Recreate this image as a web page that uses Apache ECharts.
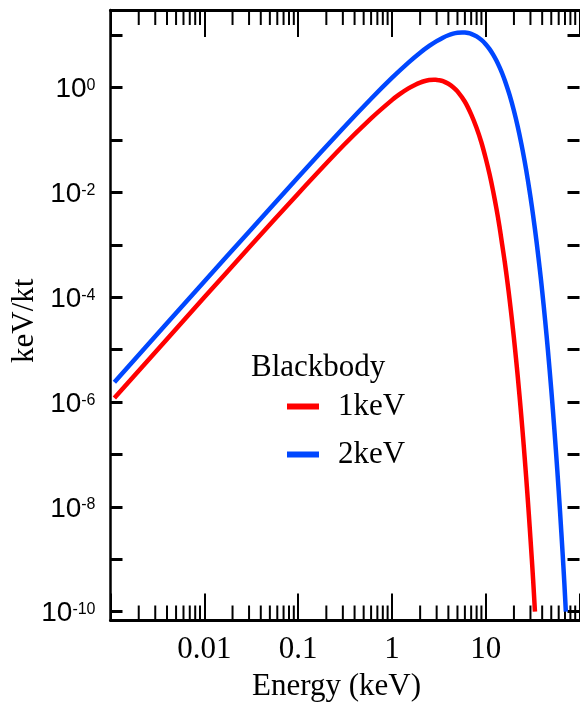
<!DOCTYPE html>
<html><head><meta charset="utf-8">
<script src="https://cdn.jsdelivr.net/npm/echarts@6/dist/echarts.min.js"></script>
<style>html,body{margin:0;padding:0;background:#fff}#c{width:580px;height:705px}</style>
</head><body><div id="c"></div>
<script>
// ---- data ----
const seriesNames = ['1keV', '2keV'];
const energy1keV = [0.0011, 0.01, 0.03, 0.1, 0.3, 0.6, 1, 1.2, 1.5, 1.8, 2, 2.2, 2.5, 2.8, 3, 3.2, 3.5, 4, 4.5, 5, 6, 7, 8, 9, 10, 11, 12, 13, 14, 15, 16, 17, 18, 19, 20, 21, 22, 23, 24, 25, 26, 27, 28, 29, 30, 31, 32, 33.5];
const flux1keV = [1.2e-6, 1.0e-4, 8.9e-4, 9.5e-3, 0.077, 0.26, 0.58, 0.745, 0.97, 1.155, 1.25, 1.327, 1.40, 1.422, 1.41, 1.393, 1.34, 1.19, 1.024, 0.85, 0.54, 0.31, 0.17, 0.090, 0.045, 0.0222, 0.0106, 4.97e-3, 2.29e-3, 1.0e-3, 4.6e-4, 2.03e-4, 8.9e-5, 3.85e-5, 1.65e-5, 7.0e-6, 2.97e-6, 1.25e-6, 5.2e-7, 2.17e-7, 8.96e-8, 3.7e-8, 1.51e-8, 6.2e-9, 2.5e-9, 1.03e-9, 4.2e-10, 1.0e-10];
const energy2keV = [0.0011, 0.01, 0.03, 0.1, 0.3, 0.6, 1, 1.5, 2, 2.5, 3, 3.5, 4, 4.5, 5, 5.6, 6, 6.5, 7, 8, 9, 10, 11, 12, 13, 14, 15, 16, 18, 20, 22, 24, 26, 28, 30, 32, 35, 38, 40, 43, 46, 50, 54, 58, 62, 66, 69, 71.5];
const flux2keV = [2.4e-6, 2.0e-4, 1.79e-3, 0.0195, 0.167, 0.617, 1.54, 3.02, 4.66, 6.27, 7.75, 9.02, 10.02, 10.74, 11.18, 11.37, 11.31, 11.08, 10.69, 9.55, 8.19, 6.78, 5.46, 4.29, 3.31, 2.50, 1.87, 1.37, 0.72, 0.363, 0.178, 0.0849, 0.0397, 0.0183, 8.26e-3, 3.69e-3, 1.08e-3, 3.08e-4, 1.32e-4, 3.66e-5, 1.0e-5, 1.74e-6, 2.96e-7, 4.96e-8, 8.2e-9, 1.34e-9, 3.4e-10, 1.0e-10];
const xTickValues = [0.01, 0.1, 1, 10];
const xTickLabels = ['0.01', '0.1', '1', '10'];
const yLabelExponents = [-10, -8, -6, -4, -2, 0];
const legendTitle = 'Blackbody';
const xTitle = 'Energy (keV)';
const yTitle = 'keV/kt';
const colors = ['#ff0000', '#0047ff'];

// axis ranges
const xMin = 0.001, xMax = 100;
const yMinExp = -10.168, yMaxExp = 1.483;

const minorTickValues = [];
for (let n = -3; n <= 1; n++) for (let k = 2; k <= 9; k++) minorTickValues.push(k * Math.pow(10, n));

const serif = 'Liberation Serif';
const sans = 'Liberation Sans';
const serifSize = 31;

function xLabel(v) {
  const r = Math.round(Math.log10(v));
  const i = xTickValues.findIndex(t => Math.round(Math.log10(t)) === r);
  return i >= 0 ? xTickLabels[i] : '';
}
function yLabel(v) {
  const e = Math.log10(v), r = Math.round(e);
  if (Math.abs(e - r) > 1e-6 || yLabelExponents.indexOf(r) < 0) return '';
  return '{b|10}{s|' + r + '}';
}

const chart = echarts.init(document.getElementById('c'), null, {renderer: 'canvas'});
const gridBase = {left: 110.5, right: 0.5, top: 10, outerBoundsMode: 'none', containLabel: false};
const tickStyle = {color: '#000', width: 2};

chart.setOption({
  animation: false,
  backgroundColor: '#fff',
  grid: [
    Object.assign({}, gridBase, {bottom: 84.5}),
    Object.assign({}, gridBase, {bottom: 93.3})
  ],
  title: {
    text: legendTitle, left: 246, top: 347,
    textStyle: {fontFamily: serif, fontSize: serifSize, fontWeight: 'normal', color: '#000'}
  },
  legend: {
    data: seriesNames, orient: 'vertical', left: 282, top: 386,
    icon: 'rect', itemWidth: 32, itemHeight: 6, itemGap: 17,
    textStyle: {fontFamily: serif, fontSize: serifSize, color: '#000', padding: [6, 0, 0, 14]}
  },
  xAxis: [
    {
      gridIndex: 0, type: 'log', min: xMin, max: xMax, interval: 1, position: 'bottom',
      axisLine: {onZero: false, lineStyle: {color: '#000', width: 3}},
      axisTick: {inside: true, length: 27, lineStyle: tickStyle},
      minorTick: {show: false}, splitLine: {show: false},
      axisLabel: {formatter: xLabel, margin: 14, color: '#000', fontFamily: serif, fontSize: serifSize},
      name: xTitle, nameLocation: 'middle', nameGap: 51,
      nameTextStyle: {fontFamily: serif, fontSize: serifSize, color: '#000', padding: [0, 17, 0, 0]}
    },
    {
      gridIndex: 0, type: 'log', min: xMin, max: xMax, interval: 1, position: 'top',
      axisLine: {onZero: false, lineStyle: {color: '#000', width: 3}},
      axisTick: {inside: true, length: 27, lineStyle: tickStyle},
      axisLabel: {show: false}, splitLine: {show: false}
    },
    {gridIndex: 1, type: 'log', min: xMin, max: xMax, show: false}
  ],
  yAxis: [
    {
      gridIndex: 0, type: 'log', min: Math.pow(10, yMinExp), max: Math.pow(10, yMaxExp), position: 'left',
      axisLine: {show: true, onZero: false, lineStyle: {color: '#000', width: 2.5}},
      axisTick: {show: false}, axisLabel: {show: false}, splitLine: {show: false},
      name: yTitle, nameLocation: 'middle', nameGap: 70, nameRotate: 90,
      nameTextStyle: {fontFamily: serif, fontSize: serifSize, color: '#000', padding: [0, 11, 0, 0]}
    },
    {
      gridIndex: 1, type: 'log', min: 1e-10, max: Math.pow(10, yMaxExp), interval: 1, position: 'left',
      axisLine: {show: false, onZero: false},
      axisTick: {inside: true, length: 12, lineStyle: {color: '#000', width: 3}},
      splitLine: {show: false},
      axisLabel: {
        formatter: yLabel, margin: 15, padding: [4, 0, 0, 0],
        rich: {
          b: {fontFamily: sans, fontSize: 28, color: '#000'},
          s: {fontFamily: sans, fontSize: 16, color: '#000', verticalAlign: 'top', padding: [2, 0, 0, 0]}
        }
      }
    },
    {
      gridIndex: 1, type: 'log', min: 1e-10, max: Math.pow(10, yMaxExp), interval: 1, position: 'right',
      axisLine: {show: false, onZero: false},
      axisTick: {inside: true, length: 12, lineStyle: {color: '#000', width: 3}},
      axisLabel: {show: false}, splitLine: {show: false}
    }
  ],
  series: [
    {
      type: 'custom', name: 'minorTicks', xAxisIndex: 0, yAxisIndex: 0, silent: true,
      data: minorTickValues.map(v => [v, 1]),
      renderItem: function (params, api) {
        const x = api.coord([api.value(0), 1])[0];
        const cs = params.coordSys;
        const st = {stroke: '#000', lineWidth: 2};
        return {type: 'group', children: [
          {type: 'line', shape: {x1: x, y1: cs.y + cs.height, x2: x, y2: cs.y + cs.height - 15}, style: st},
          {type: 'line', shape: {x1: x, y1: cs.y, x2: x, y2: cs.y + 15}, style: st}
        ]};
      }
    },
    {
      type: 'line', name: seriesNames[0], xAxisIndex: 0, yAxisIndex: 0,
      data: energy1keV.map((e, i) => [e, flux1keV[i]]),
      showSymbol: false, symbol: 'none', smooth: 0.3,
      color: colors[0], lineStyle: {color: colors[0], width: 4.5}
    },
    {
      type: 'line', name: seriesNames[1], xAxisIndex: 0, yAxisIndex: 0,
      data: energy2keV.map((e, i) => [e, flux2keV[i]]),
      showSymbol: false, symbol: 'none', smooth: 0.3,
      color: colors[1], lineStyle: {color: colors[1], width: 4.5}
    }
  ]
});
</script></body></html>
